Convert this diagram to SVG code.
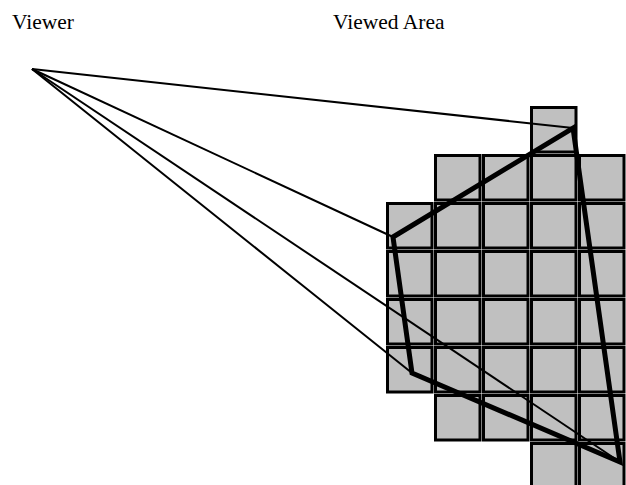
<svg xmlns="http://www.w3.org/2000/svg" width="626" height="485" viewBox="0 0 626 485">
<style>
.cell{fill:#c0c0c0;stroke:#000;stroke-width:3}
.ray{stroke:#000;stroke-width:2;fill:none}
.quad{stroke:#000;stroke-width:5;fill:none;stroke-linejoin:miter}
.lbl{font-family:"Liberation Serif","Times New Roman",serif;font-size:21.5px;fill:#000}
</style>
<defs>
<rect id="c" class="cell" x="1.5" y="1.5" width="44.5" height="44.5"/>
</defs>
<rect width="626" height="485" fill="#fff"/>
<g id="viewer-label"><text class="lbl" x="12" y="29">Viewer</text></g>
<g id="viewed-area-label"><text class="lbl" x="333" y="29">Viewed Area</text></g>
<g id="grid">
<use href="#c" x="530" y="106"/>
<use href="#c" x="434" y="154"/><use href="#c" x="482" y="154"/><use href="#c" x="530" y="154"/><use href="#c" x="578" y="154"/>
<use href="#c" x="386" y="202"/><use href="#c" x="434" y="202"/><use href="#c" x="482" y="202"/><use href="#c" x="530" y="202"/><use href="#c" x="578" y="202"/>
<use href="#c" x="386" y="250"/><use href="#c" x="434" y="250"/><use href="#c" x="482" y="250"/><use href="#c" x="530" y="250"/><use href="#c" x="578" y="250"/>
<use href="#c" x="386" y="298"/><use href="#c" x="434" y="298"/><use href="#c" x="482" y="298"/><use href="#c" x="530" y="298"/><use href="#c" x="578" y="298"/>
<use href="#c" x="386" y="346"/><use href="#c" x="434" y="346"/><use href="#c" x="482" y="346"/><use href="#c" x="530" y="346"/><use href="#c" x="578" y="346"/>
<use href="#c" x="434" y="394"/><use href="#c" x="482" y="394"/><use href="#c" x="530" y="394"/><use href="#c" x="578" y="394"/>
<use href="#c" x="530" y="442"/><use href="#c" x="578" y="442"/>
</g>
<g id="connectors">
<line class="ray" x1="32" y1="69" x2="573" y2="128"/>
<line class="ray" x1="32" y1="69" x2="393" y2="237"/>
<line class="ray" x1="32" y1="69" x2="412" y2="373"/>
<line class="ray" x1="32" y1="69" x2="620" y2="462"/>
<polygon class="quad" points="393,237 573,128 620,462 412,373"/>
</g>
</svg>
